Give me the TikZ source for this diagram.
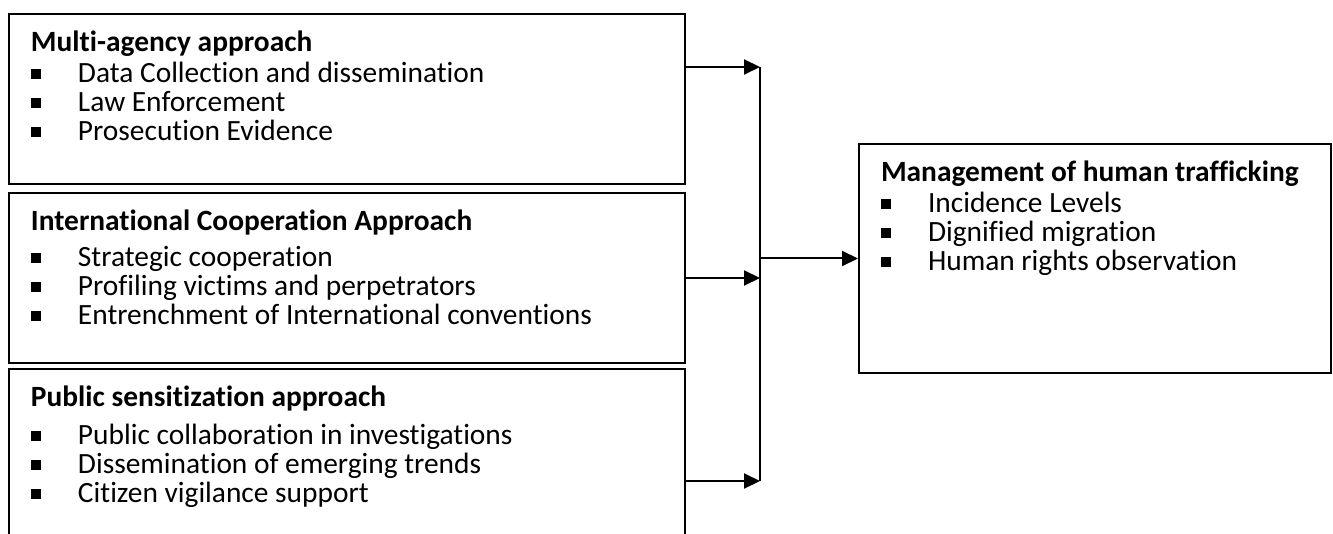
\documentclass[tikz,border=0pt]{standalone}
\usepackage{fontspec}
\setmainfont{Carlito}[Ligatures=NoCommon]
\usepackage{tikz}
\usetikzlibrary{arrows.meta}

\newcommand{\bul}[1]{\par\noindent\makebox[23.5pt][l]{\rule[1.8pt]{4.8pt}{4.8pt}}#1}
\newcommand{\head}[1]{\noindent\textbf{\strut #1}}

\begin{document}
\begin{tikzpicture}[x=0.5pt,y=-0.5pt,
    panel/.style={draw,line width=1pt,anchor=north west,inner xsep=11pt,inner ysep=8.35pt,
      font=\fontsize{14.7pt}{14.5pt}\selectfont},
    link/.style={line width=1pt,-{Triangle[length=8pt,width=7.5pt]}}]
        \useasboundingbox (0,0) rectangle (1333,534);
        \clip (0,0) rectangle (1333,534);
        %% the three approaches
        \node[panel] (multi) at (8,13) {\parbox[t][68.3pt][t]{316pt}{%
            \head{Multi-agency approach}
            \bul{Data Collection and dissemination}
            \bul{Law Enforcement}
            \bul{Prosecution Evidence}}};
        \node[panel] (intl) at (8,192) {\parbox[t][68.3pt][t]{316pt}{%
            \head{International Cooperation Approach}\par\vspace{3.5pt}
            \bul{Strategic cooperation}
            \bul{Profiling victims and perpetrators}
            \bul{Entrenchment of International conventions}}};
        \node[panel] (public) at (8,368) {\parbox[t][83.3pt][t]{316pt}{%
            \head{Public sensitization approach}\par\vspace{3.5pt}
            \bul{Public collaboration in investigations}
            \bul{Dissemination of emerging trends}
            \bul{Citizen vigilance support}}};
        %% outcome
        \node[panel] (goal) at (858,143) {\parbox[t][97.8pt][t]{214pt}{%
            \head{Management of human trafficking}
            \bul{Incidence Levels}
            \bul{Dignified migration}
            \bul{Human rights observation}}};
        %% connectors
        \coordinate (j1) at (760,67);
        \coordinate (j3) at (760,481);
        \draw[link] (multi.east |- j1) -- (j1);
        \draw[link] (intl.east) -- (intl.east -| j1);
        \draw[link] (public.east |- j3) -- (j3);
        \draw[line width=1pt] (j1) -- (j3);
        \draw[link] (j1 |- goal.west) -- (goal.west);
    \end{tikzpicture}
\end{document}
